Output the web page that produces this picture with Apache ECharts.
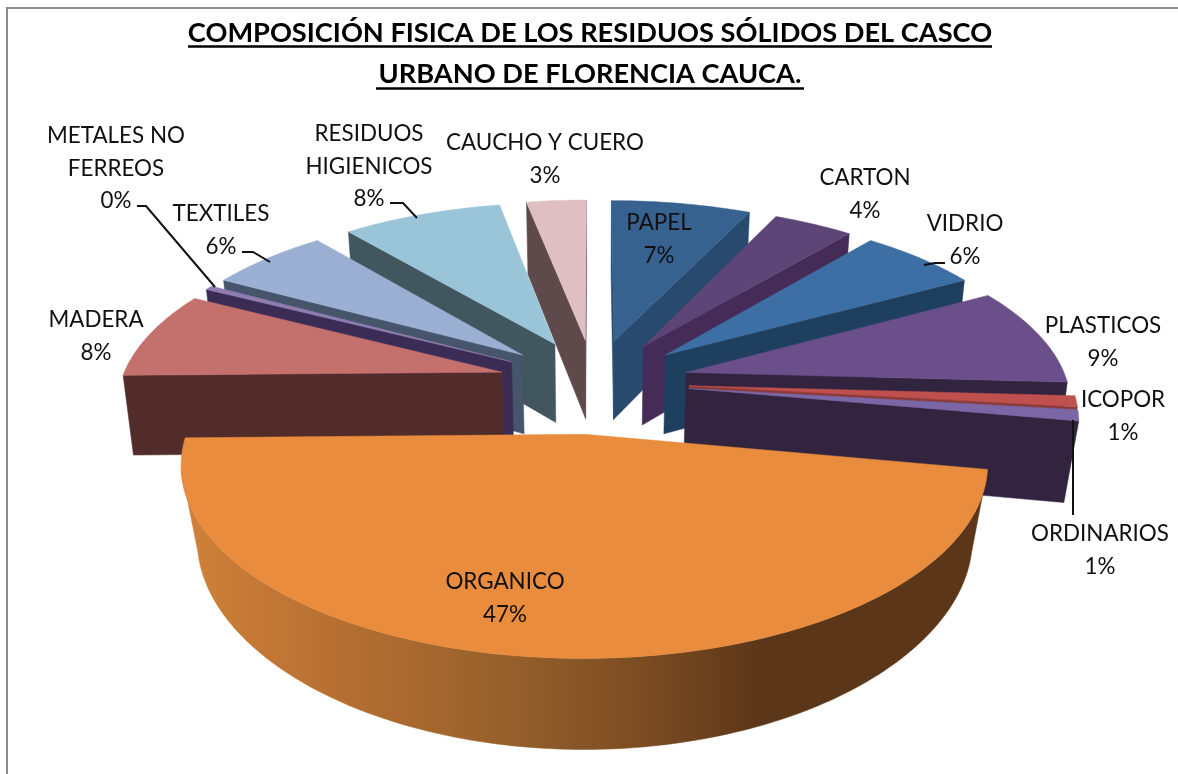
<!DOCTYPE html>
<html><head><meta charset="utf-8">
<style>html,body{margin:0;padding:0;background:#fff}#c{width:1178px;height:774px}</style>
<script src="https://cdn.jsdelivr.net/npm/echarts@6/dist/echarts.min.js"></script>
</head><body><div id="c"></div>
<script>
const categories = ['PAPEL','CARTON','VIDRIO','PLASTICOS','ICOPOR','ORDINARIOS','ORGANICO','MADERA','METALES NO FERREOS','TEXTILES','RESIDUOS HIGIENICOS','CAUCHO Y CUERO'];
const values = [7,4,6,9,1,1,47,8,0.4,6,8,3];
const topColors = ['#37618f','#5d4578','#3d6ea4','#6a4f8a','#c0504d','#7b66a6','#e98c3e','#c4706c','#8f7cb0','#9bafd2','#9ac4d8','#dfbfc2'];
const sideColors = ['#274a6e','#452c58','#1f3f5f','#32243f','#8a3a38','#32243f','#8a5526','#522c2a','#3b2c56','#46546c','#42565f','#5e4a4a'];
const explode = [0.25,0.25,0.25,0.25,0.25,0.25,0.29,0.25,0.25,0.25,0.25,0.25];
const titleLines = ['COMPOSICIÓN FISICA DE LOS RESIDUOS SÓLIDOS DEL CASCO','URBANO DE FLORENCIA CAUCA.'];
const labelLines = [['PAPEL'],['CARTON'],['VIDRIO'],['PLASTICOS'],['ICOPOR'],['ORDINARIOS'],['ORGANICO'],['MADERA'],['METALES NO','FERREOS'],['TEXTILES'],['RESIDUOS','HIGIENICOS'],['CAUCHO Y CUERO']];
const labelPos = [[659,223],[865,178],[965,224],[1103,326],[1123,400],[1100,534],[505,582],[96,320],[116,136],[221,214],[369,134],[545,143]];
const leaders = [[[137,206],[146,206],[215,287]],[[390,203],[403,203],[417,218]],[[242,252],[253,252],[270,262]],[[924,265],[935,263],[945,263]],[[1073,420],[1073,515]]];

const CX=594, CY=382, A=381, B=173, P=0.15, H=80, K=0.022, KF=0.04;
const total = values.reduce((a,b)=>a+b,0);
const starts=[]; { let acc=0; values.forEach(v=>{starts.push(acc/total*Math.PI*2); acc+=v;}); }
function proj(X,Y,Z){ const s=1/(1-P*Y); const k=K+KF*Math.max(0,Y); return [CX+A*X*s*(1-k*Z), CY+B*Y*s+H*Z*Math.pow(s,0.6)]; }
const order = values.map((v,i)=>i).sort((a,b)=>{
  const m=i=>starts[i]+values[i]/total*Math.PI; return Math.cos(m(b))-Math.cos(m(a)); });
const camY=1/P;
function renderItem(params,api){
  const i=api.value(0), v=api.value(1);
  const t0=starts[i], t1=t0+v/total*Math.PI*2, tm=(t0+t1)/2, e=explode[i];
  const ox=e*Math.sin(tm), oy=-e*Math.cos(tm);
  const pt=(r,t)=>[ox+r*Math.sin(t), oy-r*Math.cos(t)];
  const N=Math.max(2,Math.ceil((t1-t0)/0.02));
  const rim=[]; for(let k=0;k<=N;k++) rim.push(pt(1,t0+(t1-t0)*k/N));
  const topPts=[proj(ox,oy,0)].concat(rim.map(p=>proj(p[0],p[1],0)));
  const kids=[];
  const quad=(pts,fill)=>kids.push({type:'polygon',shape:{points:pts},style:{fill:fill,stroke:fill,lineWidth:0.5}});
  const vis=(px,py,nx,ny)=>((0-px)*nx+(camY-py)*ny)>0;
  const side=sideColors[i];
  const edge=(t,nx,ny)=>{ const q=pt(1,t);
    if(vis(ox,oy,nx,ny)) quad([proj(ox,oy,0),proj(q[0],q[1],0),proj(q[0],q[1],1),proj(ox,oy,1)],side); };
  edge(t0,-Math.cos(t0),-Math.sin(t0));
  edge(t1,Math.cos(t1),Math.sin(t1));
  const wallFill = i===6 ? new echarts.graphic.LinearGradient(185,0,985,0,[
    {offset:0,color:'#d08139'},{offset:0.18,color:'#b87032'},{offset:0.4,color:'#96602b'},
    {offset:0.58,color:'#7a4b22'},{offset:0.72,color:'#5c3618'},{offset:1,color:'#5c3618'}],true) : side;
  const run=[];
  const flush=()=>{ if(run.length>1) quad(run.map(p=>proj(p[0],p[1],0)).concat(run.slice().reverse().map(p=>proj(p[0],p[1],1))),wallFill); run.length=0; };
  rim.forEach((p,k)=>{ const t=t0+(t1-t0)*k/N; const nx=Math.sin(t), ny=-Math.cos(t);
    if(vis(p[0],p[1],nx,ny)) run.push(p); else flush(); });
  flush();
  kids.push({type:'polygon',shape:{points:topPts},style:{fill:topColors[i],stroke:topColors[i],lineWidth:0.5}});
  return {type:'group',children:kids};
}
const graphics=[
  {type:'polyline',silent:true,shape:{points:[[7,774],[7,8],[1178,8]]},style:{stroke:'#8c8c8c',lineWidth:2,fill:null}},
  {type:'line',shape:{x1:188,y1:46.5,x2:992,y2:46.5},style:{stroke:'#000',lineWidth:2.5}},
  {type:'line',shape:{x1:376,y1:88.5,x2:804,y2:88.5},style:{stroke:'#000',lineWidth:2.5}}
];
titleLines.forEach((t,i)=>graphics.push({type:'text',style:{text:t,x:590,y:i?74:33,align:'center',verticalAlign:'middle',font:'bold 27.2px Lato',fill:'#000'}}));
categories.forEach((c,i)=>{
  const lines=labelLines[i].concat([Math.round(values[i])+'%']);
  lines.forEach((t,k)=>graphics.push({type:'text',z:10,style:{text:t,x:labelPos[i][0],y:labelPos[i][1]+k*32.5,align:'center',verticalAlign:'middle',font:'22.4px Lato',fill:'#111'}}));
});
leaders.forEach(p=>graphics.push({type:'polyline',z:10,shape:{points:p},style:{stroke:'#111',lineWidth:2,fill:null}}));
const chart=echarts.init(document.getElementById('c'),null,{renderer:'canvas'});
chart.setOption({
  animation:false,backgroundColor:'#fff',
  series:[{type:'custom',coordinateSystem:'none',renderItem,silent:true,z:1,
    data:order.map(i=>({name:categories[i],value:[i,values[i]]}))}],
  graphic:{elements:graphics}
});
</script></body></html>
